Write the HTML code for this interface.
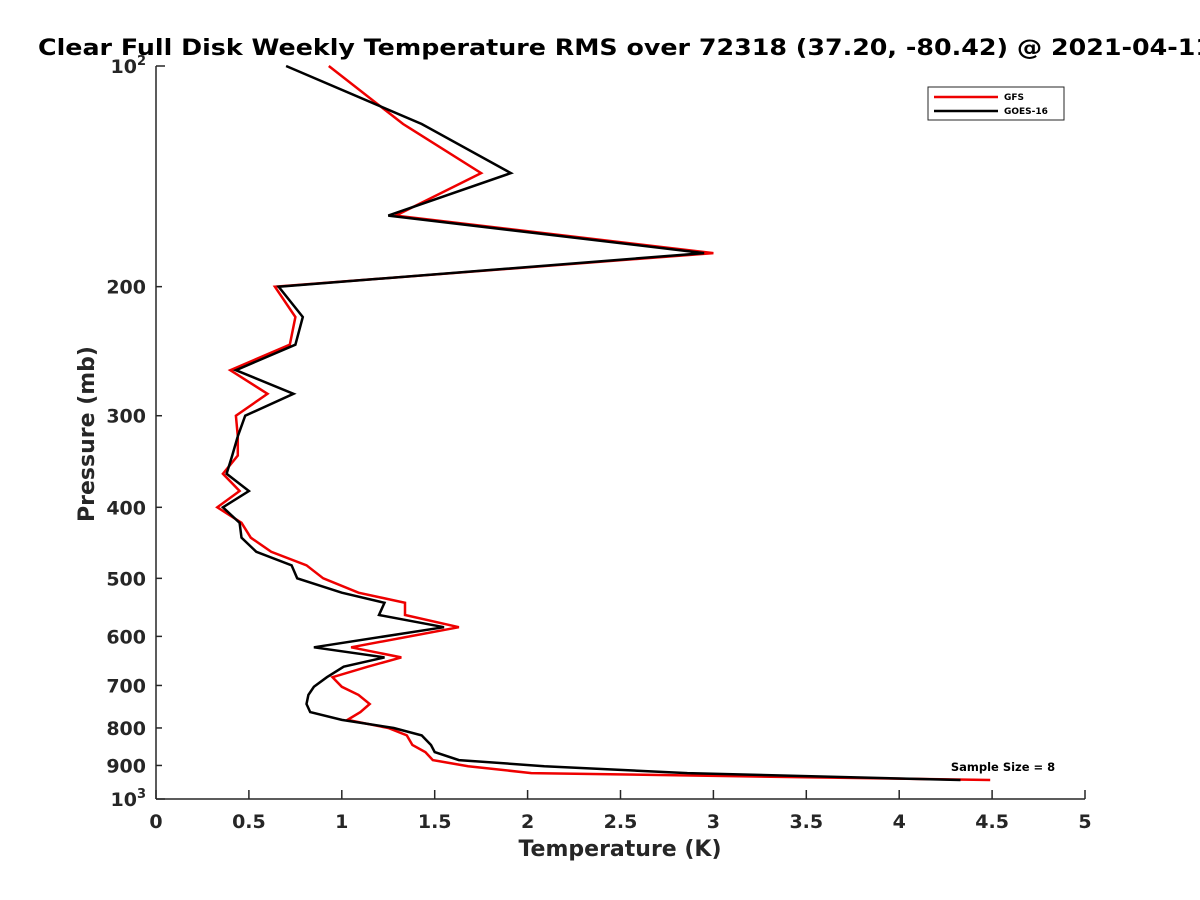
<!DOCTYPE html>
<html><head><meta charset="utf-8"><style>
html,body{margin:0;padding:0;background:#fff;overflow:hidden;}
svg{display:block;font-family:"DejaVu Sans","Liberation Sans",sans-serif;}
</style></head><body>
<svg id="chart" width="1200" height="900" viewBox="0 0 1200 900" xmlns="http://www.w3.org/2000/svg">
<rect width="1200" height="900" fill="#fff"/>
<text x="38" y="55" font-size="22.5" font-weight="bold" fill="#000" textLength="1175" lengthAdjust="spacingAndGlyphs">Clear Full Disk Weekly Temperature RMS over 72318 (37.20, -80.42) @ 2021-04-11</text>
<g id="axes"></g>
<g id="series"></g>
<text x="620" y="856" font-size="22" font-weight="bold" fill="#262626" text-anchor="middle">Temperature (K)</text>
<text transform="translate(94,434) rotate(-90)" font-size="22" font-weight="bold" fill="#262626" text-anchor="middle">Pressure (mb)</text>
<text x="1003" y="771" font-size="11.5" font-weight="bold" fill="#000" text-anchor="middle">Sample Size = 8</text>
<g>
<rect x="928" y="87" width="136" height="33" fill="#fff" stroke="#262626" stroke-width="1"/>
<line x1="934" y1="97" x2="998" y2="97" stroke="#e00" stroke-width="2.5"/>
<text x="1004" y="100" font-size="9" font-weight="bold">GFS</text>
<line x1="934" y1="111" x2="998" y2="111" stroke="#000" stroke-width="2.5"/>
<text x="1004" y="114" font-size="9" font-weight="bold">GOES-16</text>
</g>
</svg>
<script>
const pressureLevels = [100,120,140,160,180,200,220,240,260,280,300,320,340,360,380,400,420,440,460,480,500,523,540,561,583,621,641,660,682,703,721,742,761,780,800,819,844,863,885,902,922,942];
const gfsValues = [0.93,1.33,1.75,1.29,3.0,0.64,0.75,0.72,0.40,0.60,0.43,0.44,0.44,0.36,0.45,0.33,0.46,0.51,0.62,0.81,0.90,1.09,1.34,1.34,1.63,1.05,1.32,1.14,0.95,1.00,1.09,1.15,1.10,1.03,1.25,1.35,1.38,1.45,1.49,1.68,2.02,4.49];
const goesValues = [0.70,1.43,1.91,1.25,2.95,0.66,0.79,0.75,0.43,0.74,0.48,0.44,0.41,0.38,0.50,0.36,0.45,0.46,0.54,0.73,0.76,1.00,1.23,1.20,1.55,0.85,1.23,1.01,0.92,0.85,0.82,0.81,0.83,1.00,1.28,1.43,1.48,1.50,1.63,2.09,2.86,4.33];
const xTicks = [0,0.5,1,1.5,2,2.5,3,3.5,4,4.5,5];
const xTickLabels = ["0","0.5","1","1.5","2","2.5","3","3.5","4","4.5","5"];
const yTicks = [200,300,400,500,600,700,800,900];
const yTickLabels = ["200","300","400","500","600","700","800","900"];

const X0=156, X1=1085, Y0=66, Y1=799;
function xs(v){return X0+(v-0)/(5-0)*(X1-X0);}
function ys(p){return Y0+(Math.log10(p)-2)*(Y1-Y0);}
const NS="http://www.w3.org/2000/svg";
const axes=document.getElementById('axes');
const series=document.getElementById('series');
function mk(tag,attrs,parent){const e=document.createElementNS(NS,tag);for(const k in attrs)e.setAttribute(k,attrs[k]);parent.appendChild(e);return e;}
const col="#262626";
let l=mk('line',{x1:X0,y1:Y0,x2:X0,y2:Y1,stroke:col,'stroke-width':1.5},axes);


l=mk('line',{x1:X0,y1:Y1,x2:X1,y2:Y1,stroke:col,'stroke-width':1.5},axes);


xTicks.forEach((t,i)=>{
  const x=xs(t);
  const tk=mk('line',{x1:x,y1:Y1,x2:x,y2:Y1-9,stroke:col,'stroke-width':1.5},axes);
  
  
  const tx=mk('text',{x:x,y:Y1+29,'font-size':19,'font-weight':'bold',fill:col,'text-anchor':'middle'},axes);
  tx.textContent=xTickLabels[i];
  
  
});
[100,1000].forEach(p=>{
  const y=ys(p);
  const tk=mk('line',{x1:X0,y1:y,x2:X0+9,y2:y,stroke:col,'stroke-width':1.5},axes);
  
  
  const tx=mk('text',{x:X0-10,y:y+7,'font-size':19,'font-weight':'bold',fill:col,'text-anchor':'end'},axes);
  
  
  const a=mk('tspan',{},tx);a.textContent='10';
  const b=mk('tspan',{'font-size':13,dy:-8},tx);b.textContent=(p===100?'2':'3');
});
yTicks.forEach((t,i)=>{
  const y=ys(t);
  const tk=mk('line',{x1:X0,y1:y,x2:X0+6,y2:y,stroke:col,'stroke-width':1.5},axes);
  
  
  const tx=mk('text',{x:X0-10,y:y+7,'font-size':19,'font-weight':'bold',fill:col,'text-anchor':'end'},axes);
  tx.textContent=yTickLabels[i];
  
  
});
function path(vals){return vals.map((v,i)=>(i?'L':'M')+xs(v).toFixed(1)+','+ys(pressureLevels[i]).toFixed(1)).join(' ');}
const pg=mk('path',{d:path(gfsValues),fill:'none',stroke:'#e00','stroke-width':2.5,'stroke-linejoin':'miter'},series);


const pk=mk('path',{d:path(goesValues),fill:'none',stroke:'#000','stroke-width':2.5,'stroke-linejoin':'miter'},series);


</script>
</body></html>
